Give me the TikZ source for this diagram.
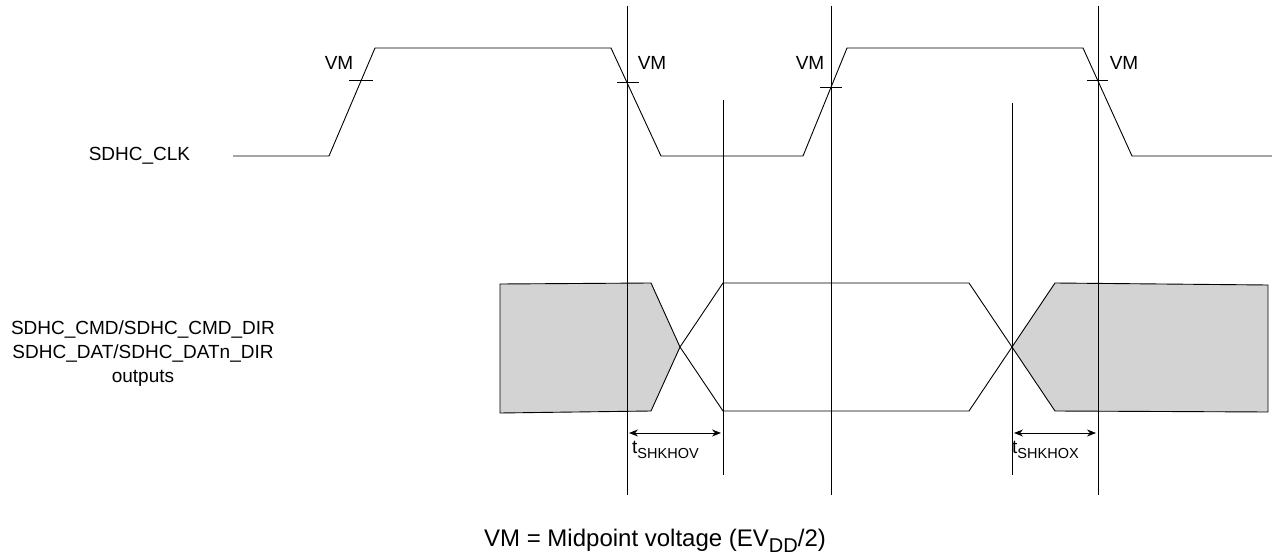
\documentclass[tikz,border=0pt]{standalone}
\usepackage{fontspec}
\setmainfont{Liberation Sans}
\usetikzlibrary{arrows.meta}
\definecolor{shadegray}{RGB}{211,211,211}
\newcommand{\lblfont}{\fontsize{19}{24}\selectfont}
\newcommand{\subfont}{\fontsize{14.5}{16}\selectfont}
\tikzset{
  sig/.style={line width=0.9pt, line join=miter},
  guide/.style={line width=0.9pt},
  shaded/.style={fill=shadegray, draw=black, line width=0.9pt, line join=miter},
  lbl/.style={font=\lblfont, inner sep=0pt},
  dimarrow/.style={{Stealth[length=9pt,width=7pt]}-{Stealth[length=9pt,width=7pt]}, line width=0.9pt},
}
\begin{document}
\begin{tikzpicture}[x=1pt,y=-1pt]
\useasboundingbox (0,0) rectangle (1272,556);

% ---- clock signal ----
\coordinate (c0) at (233,156);
\coordinate (c1) at (329,156);
\coordinate (c2) at (375,48);
\coordinate (c3) at (611,48);
\coordinate (c4) at (661,156);
\coordinate (c5) at (803,156);
\coordinate (c6) at (847,48);
\coordinate (c7) at (1083,48);
\coordinate (c8) at (1132,156);
\coordinate (c9) at (1272,156);
\draw[sig] (c0) -- (c1) -- (c2) -- (c3) -- (c4) -- (c5) -- (c6) -- (c7) -- (c8) -- (c9);

% VM ticks
\draw[guide] (349,80) -- (373,80);
\draw[guide] (617,82) -- (639,82);
\draw[guide] (820,87) -- (842,87);
\draw[guide] (1087,80) -- (1108,80);

% VM labels
\node[lbl] (vm1) at (339,63) {VM};
\node[lbl] (vm2) at (652,63) {VM};
\node[lbl] (vm3) at (810,63) {VM};
\node[lbl] (vm4) at (1124,63) {VM};

% ---- vertical reference lines ----
\coordinate (v1t) at (627,6);   \coordinate (v1b) at (627,495);
\coordinate (v2t) at (831,6);   \coordinate (v2b) at (831,495);
\coordinate (v3t) at (1098,6);  \coordinate (v3b) at (1098,495);
\coordinate (s1t) at (723,100); \coordinate (s1b) at (723,475);
\coordinate (s2t) at (1012,103);\coordinate (s2b) at (1012,475);

% ---- data signal ----
\coordinate (x1) at (680,347);
\coordinate (x2) at (1012,347);
\draw[shaded] (500,284) -- (651,283) -- (x1) -- (651,411) -- (500,413) -- cycle;
\draw[shaded] (x2) -- (1055,283) -- (1268,285) -- (1268,412) -- (1055,411) -- cycle;
\draw[sig] (x1) -- (723,283) -- (969,283) -- (x2);
\draw[sig] (x1) -- (723,411) -- (969,411) -- (x2);

\draw[guide] (v1t) -- (v1b);
\draw[guide] (v2t) -- (v2b);
\draw[guide] (v3t) -- (v3b);
\draw[guide] (s1t) -- (s1b);
\draw[guide] (s2t) -- (s2b);

% ---- timing arrows ----
\coordinate (a1l) at (629,433); \coordinate (a1r) at (721,433);
\coordinate (a2l) at (1014,433); \coordinate (a2r) at (1096,433);
\draw[dimarrow] (a1l) -- (a1r);
\draw[dimarrow] (a2l) -- (a2r);
\node[lbl, anchor=base west] (tov) at (632,453) {t\raisebox{-5pt}{\subfont SHKHOV}};
\node[lbl, anchor=base west] (tox) at (1012,453) {t\raisebox{-5pt}{\subfont SHKHOX}};

% ---- signal names ----
\node[lbl, anchor=base] (clk) at (139.5,161) {SDHC\_CLK};
\node[lbl, align=center] (dat) at (143,354) {SDHC\_CMD/SDHC\_CMD\_DIR\\SDHC\_DAT/SDHC\_DATn\_DIR\\outputs};

% ---- caption ----
\node[inner sep=0pt, anchor=base, font=\fontsize{24}{28}\selectfont] (cap) at (655,546)
  {VM = Midpoint voltage (EV\raisebox{-6pt}{\fontsize{20}{22}\selectfont DD}/2)};
\end{tikzpicture}
\end{document}
